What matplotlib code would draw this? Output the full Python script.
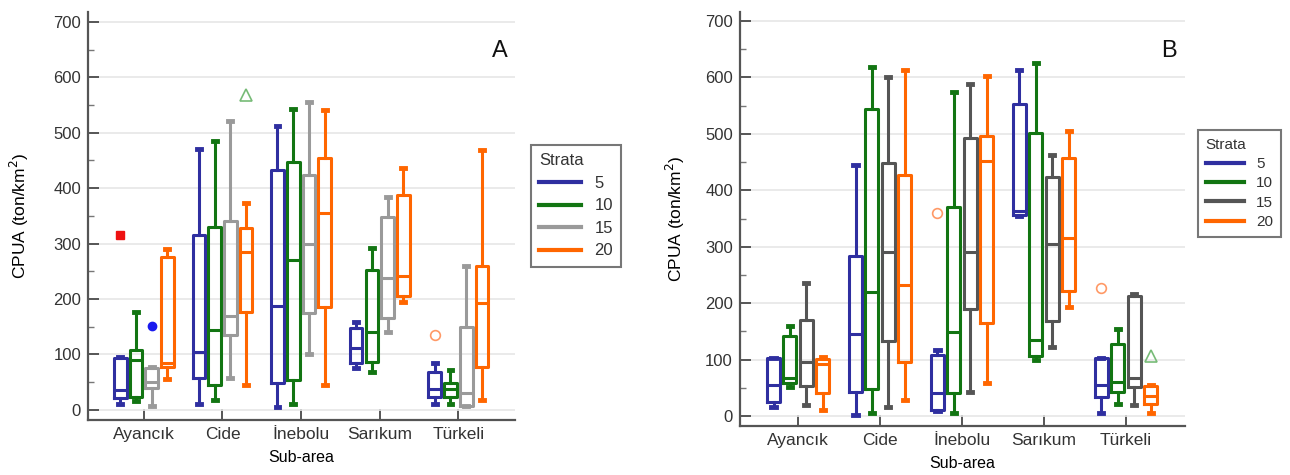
import numpy as np
import matplotlib.pyplot as plt
from matplotlib.lines import Line2D
from matplotlib.ticker import MultipleLocator

plt.rcParams['font.family'] = ['Liberation Sans', 'DejaVu Sans']
plt.rcParams['text.color'] = '#333333'

# ------------------------------------------------------------
# data (box stats per stratum, per area)
# ------------------------------------------------------------
areas = ['Ayancık', 'Cide', 'İnebolu', 'Sarıkum', 'Türkeli']
strata = ['5', '10', '15', '20']

# panel A
a_whislo = [[11, 10, 5, 75, 10], [15, 18, 11, 69, 11], [7, 58, 101, 140, 7], [55, 44, 44, 194, 18]]
a_q1 = [[21, 58, 49, 85, 24], [24, 45, 54, 87, 24], [39, 135, 175, 166, 7], [78, 177, 185, 206, 77]]
a_med = [[35, 105, 188, 112, 38], [90, 144, 271, 140, 37], [51, 170, 300, 238, 31], [85, 284, 356, 242, 192]]
a_q3 = [[93, 316, 432, 147, 69], [108, 330, 448, 253, 49], [75, 341, 424, 348, 150], [275, 329, 455, 388, 260]]
a_whishi = [[96, 471, 513, 159, 84], [176, 485, 543, 292, 71], [77, 521, 556, 385, 260], [291, 373, 541, 436, 469]]

# panel B
b_whislo = [[16, 1, 8, 355, 6], [51, 6, 6, 99, 21], [20, 16, 43, 123, 20], [11, 28, 58, 193, 6]]
b_q1 = [[25, 43, 10, 356, 34], [58, 47, 41, 107, 43], [53, 133, 189, 168, 52], [40, 95, 165, 222, 21]]
b_med = [[55, 145, 40, 364, 55], [67, 220, 148, 135, 61], [96, 290, 291, 304, 67], [92, 233, 452, 315, 35]]
b_q3 = [[102, 284, 108, 553, 102], [142, 544, 371, 502, 128], [171, 449, 492, 423, 212], [101, 427, 497, 458, 53]]
b_whishi = [[102, 445, 117, 613, 102], [160, 619, 575, 625, 154], [235, 600, 589, 463, 216], [105, 613, 602, 505, 55]]

# odd points: area index, stratum slot, value
a_out_area = [0, 0, 1, 4]
a_out_slot = [0, 2, 3, 0]
a_out_val = [316, 152, 568, 135]
b_out_area = [2, 4, 4]
b_out_slot = [0, 0, 3]
b_out_val = [360, 226, 106]

# ------------------------------------------------------------
# styling
# ------------------------------------------------------------
cols_a = ['#2f2fa0', '#127512', '#9a9a9a', '#ff6600']
cols_b = ['#2f2fa0', '#127512', '#555555', '#ff6600']
offsets = [-0.3, -0.1, 0.1, 0.3]
out_style_a = [dict(marker='s', color='#ee1111', mfc='#ee1111', ms=6),
               dict(marker='o', color='#1a1aee', mfc='#1a1aee', ms=6),
               dict(marker='^', color='#77bb77', mfc='none', ms=8, mew=1.2),
               dict(marker='o', color='#ff9966', mfc='none', ms=7, mew=1.2)]
out_style_b = [dict(marker='o', color='#ff9966', mfc='none', ms=7, mew=1.2),
               dict(marker='o', color='#ff9966', mfc='none', ms=7, mew=1.2),
               dict(marker='^', color='#77bb77', mfc='none', ms=8, mew=1.2)]

fig = plt.figure(figsize=(12.9, 4.75), dpi=100)
axA = fig.add_axes([0.0682, 0.1158, 0.3310, 0.8589])
axB = fig.add_axes([0.5736, 0.1032, 0.3450, 0.8715])


def draw_panel(ax, lo, q1, med, q3, hi, cols):
    for j in range(4):
        stats = []
        for i in range(len(areas)):
            stats.append(dict(whislo=lo[j][i], q1=q1[j][i], med=med[j][i],
                              q3=q3[j][i], whishi=hi[j][i], fliers=[]))
        pos = np.arange(len(areas)) + offsets[j]
        lp = dict(color=cols[j], linewidth=2.2)
        ax.bxp(stats, positions=pos, widths=0.16, showfliers=False,
               boxprops=lp, whiskerprops=lp, medianprops=lp,
               capprops=dict(color=cols[j], linewidth=3.5), capwidths=0.05,
               manage_ticks=False)


def dress(ax, ylo, yhi, letter, ypad):
    ax.set_xlim(-0.71, 4.72)
    ax.set_ylim(ylo, yhi)
    ax.set_xticks(range(len(areas)))
    ax.set_xticklabels(areas)
    ax.yaxis.set_major_locator(MultipleLocator(100))
    ax.yaxis.set_minor_locator(MultipleLocator(50))
    ax.grid(axis='y', color='#e6e6e6', linewidth=1.2)
    ax.set_axisbelow(True)
    for s in ['top', 'right']:
        ax.spines[s].set_visible(False)
    for s in ['left', 'bottom']:
        ax.spines[s].set_color('#555555')
        ax.spines[s].set_linewidth(1.6)
    ax.tick_params(which='major', direction='in', length=8, width=1.4,
                   color='#555555', labelsize=12, labelcolor='#333333', pad=5)
    ax.tick_params(axis='x', labelsize=12.5)
    ax.tick_params(which='minor', direction='in', length=4, width=1.0, color='#777777')
    ax.tick_params(axis='x', which='minor', length=0)
    ax.set_ylabel('CPUA (ton/km$^2$)', fontsize=12.5, labelpad=ypad)
    ax.set_xlabel('Sub-area', fontsize=11.5, labelpad=6)
    ax.text(0.965, 0.905, letter, transform=ax.transAxes, fontsize=17,
            ha='center', va='center', color='#111111')


def legend(ax, cols, x, y, fs, sp):
    handles = [Line2D([], [], color=c, lw=3) for c in cols]
    lg = ax.legend(handles, strata, title='Strata', loc='upper left',
                   bbox_to_anchor=(x, y), bbox_transform=fig.transFigure,
                   borderaxespad=0, fontsize=fs, title_fontsize=fs,
                   frameon=True, fancybox=False, edgecolor='#555555',
                   handlelength=2.5, handletextpad=0.8, labelspacing=sp,
                   borderpad=0.5, alignment='left')
    lg.get_frame().set_linewidth(1.5)


draw_panel(axA, a_whislo, a_q1, a_med, a_q3, a_whishi, cols_a)
for i, k, v, st in zip(a_out_area, a_out_slot, a_out_val, out_style_a):
    axA.plot(i + offsets[k], v, linestyle='none', **st)
dress(axA, -18.4, 718, 'A', 16)
legend(axA, cols_a, 0.4116, 0.6947, 12, 0.45)

draw_panel(axB, b_whislo, b_q1, b_med, b_q3, b_whishi, cols_b)
for i, k, v, st in zip(b_out_area, b_out_slot, b_out_val, out_style_b):
    axB.plot(i + offsets[k], v, linestyle='none', **st)
dress(axB, -17.7, 716, 'B', 13)
legend(axB, cols_b, 0.9287, 0.7263, 11, 0.35)

fig.savefig('out.png', dpi=100)
